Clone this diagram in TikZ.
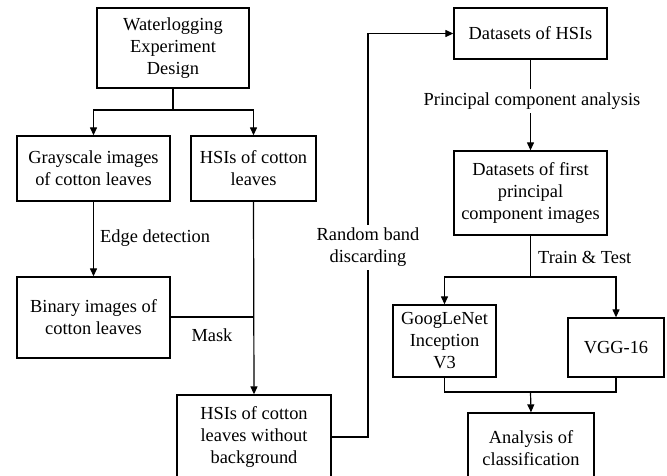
\documentclass[tikz,border=0pt]{standalone}
\usepackage{fontspec}
\setmainfont{LiberationSerif}[Extension=.ttf,UprightFont=*-Regular,BoldFont=*-Bold]
\usetikzlibrary{arrows.meta,calc}
\begin{document}
\begin{tikzpicture}[x=1pt,y=-1pt,
  every node/.style={font=\rmfamily\fontsize{18.4}{22}\selectfont},
  box/.style={draw,line width=1.3pt,align=center,inner sep=0pt,minimum width=#1},
  lbl/.style={align=center,inner sep=1pt},
  conn/.style={line width=1.2pt},
  arr/.style={conn,-{Triangle[length=8pt,width=7pt]}}]
\useasboundingbox (0,0) rectangle (667,476);
% boxes
\node[box=152pt,minimum height=80pt] (wl) at (173,48) {Waterlogging\\Experiment\\Design};
\node[box=153pt,minimum height=65pt] (gray) at (93.5,168.5) {Grayscale images\\of cotton leaves};
\node[box=125pt,minimum height=65pt] (hsi) at (253.5,168.5) {HSIs of cotton\\leaves};
\node[box=153pt,minimum height=81pt] (bin) at (93.5,317.5) {Binary images of\\cotton leaves};
\node[box=154pt,minimum height=84pt] (hwb) at (254,437) {HSIs of cotton\\leaves without\\background};
\node[box=153pt,minimum height=51pt] (dh) at (530.5,33.5) {Datasets of HSIs};
\node[box=153pt,minimum height=84pt] (dfp) at (530.5,193) {Datasets of first\\principal\\component images};
\node[box=103pt,minimum height=72pt] (goog) at (444.5,341) {GoogLeNet\\Inception\\V3};
\node[box=96pt,minimum height=59pt] (vgg) at (616,347.5) {VGG-16};
\node[box=126pt,minimum height=70pt] (ana) at (531,448) {Analysis of\\classification};
% coordinates
\coordinate (s1) at (173,110);
\coordinate (m1) at (254,317);
\coordinate (r1) at (368,437);
\coordinate (r2) at (368,33.5);
\coordinate (s2) at (530.5,277);
\coordinate (j1) at (444.5,392);
\coordinate (j2) at (616,392);
\coordinate (j3) at (530.5,392);
% connectors
\draw[conn] (wl.south) -- (s1);
\draw[arr] (s1) -| (gray.north);
\draw[arr] (s1) -| (hsi.north);
\draw[arr] (gray.south) -- (bin.north);
\node[lbl,anchor=west] (ed) at (99,238) {Edge detection};
\draw[arr] (hsi.south) -- (hwb.north);
\draw[conn] (bin.east |- m1) -- (m1);
\node[lbl] (mask) at (212,335) {Mask};
\draw[arr] (hwb.east |- r1) -- (r1) -- (r2) -- (dh.west);
\node[lbl,fill=white,inner sep=3pt] (rbd) at (368,247.5) {Random band\\discarding};
\draw[arr] (dh.south) -- (dfp.north);
\node[lbl,fill=white,inner sep=4pt] (pca) at (532,101) {Principal component analysis};
\draw[conn] (dfp.south) -- (s2);
\draw[arr] (s2) -| (goog.north);
\draw[arr] (s2) -| (vgg.north);
\node[lbl,anchor=west] (tt) at (537,257) {Train \& Test};
\draw[conn] (goog.south) -- (j1) -- (j2) -- (vgg.south);
\draw[arr] (j3) -- (ana.north);
\end{tikzpicture}
\end{document}
